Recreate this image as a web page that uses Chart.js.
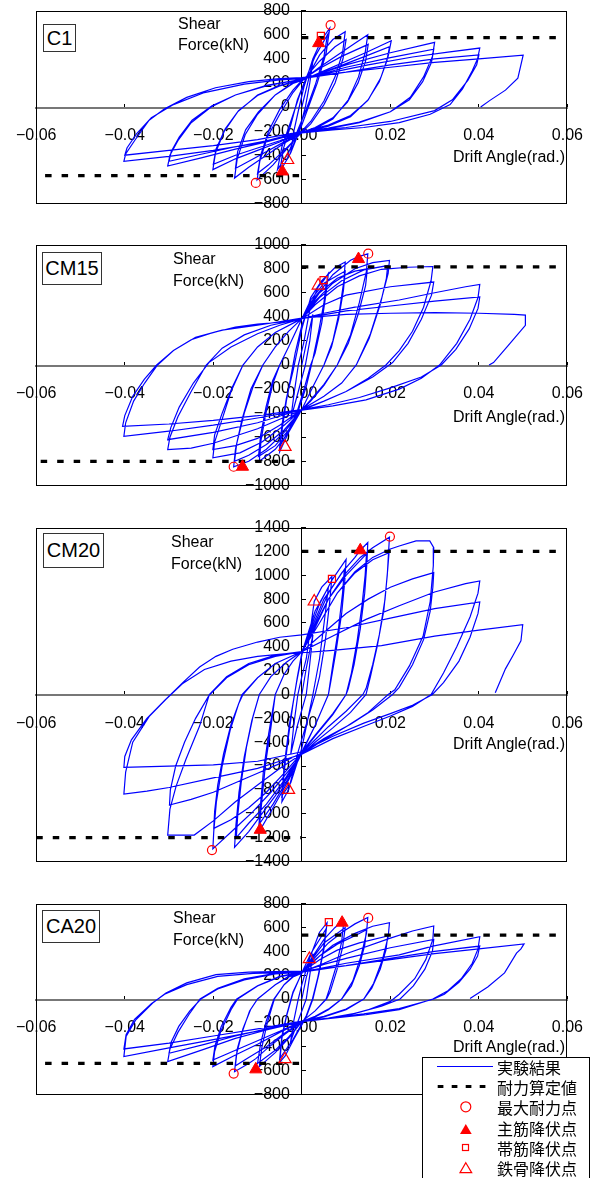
<!DOCTYPE html>
<html>
<head>
<meta charset="utf-8">
<script src="https://cdn.jsdelivr.net/npm/chart.js@4.4.1/dist/chart.umd.min.js"></script>
<style>
  body { margin: 0; background: #fff; width: 592px; height: 1178px; position: relative; overflow: hidden; font-family: 'Liberation Sans', Arial, sans-serif; }
  canvas { position: absolute; left: 0; }
  .tag { position: absolute; border: 1px solid #333; background: #fff; font-size: 20px; text-align: center; box-sizing: border-box; color: #000; }
  .lbl { position: absolute; font-size: 16px; line-height: 20px; height: 20px; white-space: nowrap; color: #000; }
  #legend { position: absolute; left: 422px; top: 1057px; width: 168px; height: 130px; border: 1px solid #000; background: #fff; box-sizing: border-box; }
  #legend svg { position: absolute; left: -1px; top: -1px; }
  .lg { position: absolute; left: 74px; font-family: 'Noto Sans CJK JP', sans-serif; font-size: 16px; line-height: 20px; height: 20px; white-space: nowrap; }
</style>
</head>
<body>
<canvas id="c1" width="592" height="224"></canvas>
<canvas id="cm15" width="592" height="281"></canvas>
<canvas id="cm20" width="592" height="374"></canvas>
<canvas id="ca20" width="592" height="231"></canvas>

<div class="tag" style="left:43px;top:24px;width:33px;height:28px;line-height:26px;">C1</div>
<div class="tag" style="left:42px;top:252px;width:60px;height:33px;line-height:31px;">CM15</div>
<div class="tag" style="left:43px;top:533px;width:61px;height:35px;line-height:33px;">CM20</div>
<div class="tag" style="left:42px;top:910px;width:58px;height:33px;line-height:31px;">CA20</div>

<div class="lbl" style="left:178px;top:14px;">Shear</div>
<div class="lbl" style="left:178px;top:35px;">Force(kN)</div>
<div class="lbl" style="left:173px;top:249px;">Shear</div>
<div class="lbl" style="left:173px;top:271px;">Force(kN)</div>
<div class="lbl" style="left:171px;top:532px;">Shear</div>
<div class="lbl" style="left:171px;top:554px;">Force(kN)</div>
<div class="lbl" style="left:173px;top:908px;">Shear</div>
<div class="lbl" style="left:173px;top:930px;">Force(kN)</div>

<div class="lbl" style="right:27px;top:147px;">Drift Angle(rad.)</div>
<div class="lbl" style="right:27px;top:407px;">Drift Angle(rad.)</div>
<div class="lbl" style="right:27px;top:734px;">Drift Angle(rad.)</div>
<div class="lbl" style="right:27px;top:1037px;">Drift Angle(rad.)</div>

<div id="legend">
  <svg width="170" height="125">
    <line x1="15" y1="9.5" x2="71" y2="9.5" stroke="#0000ff" stroke-width="1"/>
    <line x1="15.7" y1="29.5" x2="71" y2="29.5" stroke="#000" stroke-width="3" stroke-dasharray="5.7 8.3"/>
    <circle cx="43.8" cy="49.8" r="5" fill="none" stroke="#ff0000" stroke-width="1.2"/>
    <polygon points="43.8,67 49.7,77 38,77" fill="#ff0000"/>
    <rect x="40.5" y="87.5" width="6" height="6" fill="none" stroke="#ff0000" stroke-width="1.2"/>
    <polygon points="43.8,105.7 49.7,115.7 38,115.7" fill="none" stroke="#ff0000" stroke-width="1.2"/>
  </svg>
  <div class="lg" style="top:-1px;">実験結果</div>
  <div class="lg" style="top:19px;">耐力算定値</div>
  <div class="lg" style="top:39px;">最大耐力点</div>
  <div class="lg" style="top:60px;">主筋降伏点</div>
  <div class="lg" style="top:80px;">帯筋降伏点</div>
  <div class="lg" style="top:100px;">鉄骨降伏点</div>
</div>

<script>
// drift angle (rad.) vs shear force (kN)
const c1Curve = [
  [0,0],[0.0012,180],[0.0025,380],[0.0018,200],[0.0008,0],[-0.0005,-180],[-0.0025,-370],[-0.0018,-200],[-0.0006,0],[0.0005,170],
  [0.0025,400],[0.0045,560],[0.0063,655],[0.0055,450],[0.0035,200],[0.0015,0],[0,-150],[-0.0025,-380],[-0.005,-540],[-0.0042,-350],[-0.0025,-150],[-0.001,60],[0.0005,200],
  [0.003,420],[0.0058,600],[0.005,420],[0.003,180],[0.001,-20],[-0.001,-200],[-0.003,-380],[-0.0055,-520],[-0.0045,-330],[-0.0025,-120],[-0.0005,100],[0.001,230],
  [0.004,430],[0.007,560],[0.0098,625],[0.0092,450],[0.0075,250],[0.005,50],[0.002,-120],[0,-200],[-0.003,-330],[-0.0065,-480],[-0.0101,-605],[-0.0095,-450],[-0.0078,-250],[-0.005,-60],[-0.002,120],[0,210],
  [0.004,380],[0.0075,500],[0.01,560],[0.0093,400],[0.0075,200],[0.005,20],[0.002,-140],[0,-210],[-0.004,-360],[-0.0075,-480],[-0.01,-550],[-0.0093,-400],[-0.0075,-200],[-0.005,-20],[-0.002,140],[0,220],
  [0.004,330],[0.008,430],[0.012,530],[0.0149,600],[0.0143,450],[0.0128,250],[0.0105,60],[0.007,-100],[0.003,-180],[0,-215],[-0.004,-300],[-0.008,-400],[-0.012,-500],[-0.0152,-590],[-0.0146,-430],[-0.0128,-230],[-0.01,-60],[-0.006,100],[-0.002,200],[0,225],
  [0.004,320],[0.009,420],[0.015,520],[0.0144,380],[0.0127,200],[0.0103,40],[0.007,-90],[0.003,-170],[0,-210],[-0.005,-310],[-0.01,-410],[-0.015,-510],[-0.0145,-370],[-0.0127,-190],[-0.0098,-40],[-0.006,100],[-0.002,195],[0,220],
  [0.005,300],[0.01,380],[0.015,460],[0.0202,550],[0.0195,420],[0.0178,240],[0.015,60],[0.011,-80],[0.006,-160],[0,-210],[-0.005,-290],[-0.01,-360],[-0.015,-430],[-0.0201,-520],[-0.0195,-380],[-0.0175,-200],[-0.0145,-40],[-0.01,100],[-0.005,180],[0,225],
  [0.005,290],[0.01,360],[0.015,430],[0.0198,500],[0.0192,380],[0.0175,210],[0.0148,50],[0.011,-70],[0.006,-150],[0,-205],[-0.005,-280],[-0.01,-340],[-0.015,-400],[-0.02,-475],[-0.0194,-350],[-0.0173,-180],[-0.0143,-30],[-0.01,95],[-0.005,175],[0,225],
  [0.005,290],[0.01,350],[0.02,450],[0.03,536],[0.0295,420],[0.0275,250],[0.0245,80],[0.02,-40],[0.013,-130],[0.006,-180],[0,-210],[-0.008,-290],[-0.015,-350],[-0.0225,-420],[-0.0303,-490],[-0.0298,-400],[-0.028,-280],[-0.025,-130],[-0.0205,0],[-0.015,100],[-0.008,180],[0,230],
  [0.005,280],[0.01,330],[0.02,410],[0.0298,480],[0.0293,370],[0.0273,210],[0.0243,60],[0.02,-40],[0.013,-125],[0.006,-175],[0,-205],[-0.008,-280],[-0.015,-330],[-0.0225,-390],[-0.03,-450],[-0.0295,-370],[-0.0277,-250],[-0.0248,-110],[-0.0203,10],[-0.015,100],[-0.008,175],[0,230],
  [0.007,290],[0.015,350],[0.025,415],[0.033,455],[0.0402,489],[0.0397,400],[0.0385,300],[0.0363,150],[0.0335,20],[0.029,-60],[0.022,-130],[0.014,-170],[0.007,-190],[0,-215],[-0.01,-300],[-0.02,-360],[-0.03,-410],[-0.0402,-450],[-0.0398,-390],[-0.0378,-280],[-0.0345,-110],[-0.031,-15],[-0.026,80],[-0.0195,160],[-0.012,210],[-0.005,235],[0,245],
  [0.01,290],[0.02,350],[0.03,400],[0.04,433],[0.0395,350],[0.0375,220],[0.034,60],[0.03,-30],[0.02,-120],[0.01,-170],[0,-205],[-0.01,-270],[-0.02,-320],[-0.03,-360],[-0.04,-400],[-0.0395,-340],[-0.0373,-220],[-0.034,-90],[-0.029,20],[-0.022,120],[-0.013,190],[-0.005,225],[0,235],
  [0.01,290],[0.02,330],[0.03,370],[0.04,400],[0.05,430],[0.0488,240],[0.046,140],[0.0425,55],[0.0404,0]
];
const cm15Curve = [
  [0,0],[0.001,180],[0.0025,420],[0.0018,200],[0.0008,0],[-0.0008,-220],[-0.0025,-450],[-0.0018,-250],[-0.0008,0],[0.0004,180],
  [0.002,500],[0.0037,650],[0.0049,700],[0.006,760],[0.0055,600],[0.0045,350],[0.003,100],[0.002,0],[0.0005,-200],[-0.001,-380],[-0.003,-560],[-0.005,-720],[-0.0045,-550],[-0.0035,-300],[-0.0025,-100],[-0.0015,100],[0,330],
  [0.002,520],[0.0055,680],[0.005,520],[0.0038,280],[0.0025,50],[0.001,-180],[-0.001,-400],[-0.005,-680],[-0.0045,-500],[-0.0035,-280],[-0.002,-50],[0,300],
  [0.002,560],[0.0045,700],[0.0075,810],[0.0098,855],[0.0095,700],[0.0085,450],[0.007,200],[0.005,0],[0.0025,-180],[0,-370],[-0.003,-560],[-0.006,-700],[-0.0096,-799],[-0.0092,-620],[-0.008,-380],[-0.0065,-150],[-0.005,0],[-0.003,150],[-0.0012,290],[0,385],
  [0.002,540],[0.005,680],[0.0098,780],[0.0094,620],[0.0083,380],[0.0067,150],[0.005,0],[0.0025,-180],[0,-370],[-0.003,-540],[-0.006,-670],[-0.0098,-760],[-0.0093,-580],[-0.0081,-350],[-0.0066,-130],[-0.005,0],[-0.003,150],[-0.0012,290],[0,385],
  [0.003,560],[0.007,750],[0.011,870],[0.0128,900],[0.0149,923],[0.0146,780],[0.013,520],[0.011,250],[0.008,0],[0.005,-170],[0.002,-300],[0,-375],[-0.004,-560],[-0.008,-700],[-0.012,-800],[-0.0154,-845],[-0.015,-700],[-0.0135,-450],[-0.0115,-200],[-0.0088,0],[-0.006,150],[-0.003,280],[0,385],
  [0.004,600],[0.008,720],[0.012,780],[0.0148,800],[0.0144,660],[0.0128,430],[0.0105,180],[0.008,0],[0.005,-160],[0.002,-290],[0,-370],[-0.004,-540],[-0.008,-660],[-0.012,-750],[-0.0152,-799],[-0.0147,-650],[-0.013,-400],[-0.011,-180],[-0.0088,0],[-0.006,150],[-0.003,280],[0,385],
  [0.003,530],[0.007,680],[0.012,800],[0.016,850],[0.0198,868],[0.0195,760],[0.018,550],[0.0155,260],[0.0123,0],[0.009,-150],[0.005,-260],[0,-370],[-0.004,-500],[-0.009,-640],[-0.014,-730],[-0.0201,-771],[-0.0197,-640],[-0.018,-450],[-0.016,-220],[-0.0133,0],[-0.01,150],[-0.006,270],[0,385],
  [0.004,560],[0.009,700],[0.014,790],[0.0194,826],[0.0191,720],[0.0177,500],[0.0152,220],[0.0123,0],[0.009,-150],[0.005,-260],[0,-370],[-0.005,-500],[-0.01,-610],[-0.015,-670],[-0.0201,-702],[-0.0197,-580],[-0.018,-400],[-0.0158,-190],[-0.0133,0],[-0.01,150],[-0.006,270],[0,385],
  [0.003,500],[0.008,650],[0.013,740],[0.018,795],[0.024,812],[0.0296,818],[0.0292,700],[0.0275,480],[0.025,280],[0.022,120],[0.019,0],[0.015,-110],[0.01,-220],[0.005,-300],[0,-375],[-0.005,-450],[-0.01,-530],[-0.02,-650],[-0.025,-690],[-0.0303,-702],[-0.0298,-600],[-0.028,-430],[-0.025,-220],[-0.0216,0],[-0.018,140],[-0.013,250],[-0.007,330],[0,385],
  [0.005,500],[0.01,580],[0.02,650],[0.0298,689],[0.0293,580],[0.027,380],[0.024,180],[0.0205,20],[0.016,-100],[0.01,-220],[0.005,-300],[0,-370],[-0.01,-480],[-0.02,-560],[-0.0303,-620],[-0.0296,-520],[-0.0277,-350],[-0.0245,-150],[-0.021,20],[-0.016,150],[-0.01,260],[-0.005,330],[0,385],
  [0.005,430],[0.012,480],[0.022,540],[0.03,600],[0.037,650],[0.0402,669],[0.0398,560],[0.038,380],[0.035,180],[0.0311,0],[0.027,-110],[0.022,-200],[0.0145,-290],[0.007,-340],[0,-375],[-0.01,-440],[-0.02,-500],[-0.03,-550],[-0.0402,-592],[-0.0398,-480],[-0.038,-300],[-0.0355,-150],[-0.0326,0],[-0.029,120],[-0.025,210],[-0.02,270],[-0.015,315],[-0.01,340],[-0.005,355],[0,385],
  [0.01,450],[0.02,490],[0.03,530],[0.0402,565],[0.0398,470],[0.0378,300],[0.0348,130],[0.0315,0],[0.027,-100],[0.02,-190],[0.013,-270],[0.006,-330],[0,-370],[-0.01,-420],[-0.02,-460],[-0.03,-490],[-0.0405,-510],[-0.04,-420],[-0.0382,-260],[-0.0356,-120],[-0.0328,0],[-0.029,120],[-0.024,230],[-0.018,290],[-0.01,330],[0,390],
  [0.01,420],[0.02,430],[0.03,435],[0.04,430],[0.048,420],[0.0505,415],[0.0505,330],[0.0466,160],[0.0433,20],[0.0423,0]
];
const cm20Curve = [
  [0,0],[0.001,220],[0.0025,500],[0.0018,260],[0.001,0],[-0.001,-260],[-0.0025,-500],[-0.0018,-250],[-0.0009,0],[0,150],
  [0.001,300],[0.0028,780],[0.0045,900],[0.0068,990],[0.0063,780],[0.0053,450],[0.004,150],[0.003,0],[0.001,-250],[-0.001,-500],[-0.003,-800],[-0.0045,-900],[-0.004,-650],[-0.003,-350],[-0.002,-80],[-0.001,150],[0,350],
  [0.003,700],[0.006,900],[0.0052,650],[0.004,300],[0.0025,0],[0,-450],[-0.0025,-740],[-0.0045,-850],[-0.004,-600],[-0.0028,-250],[-0.0012,100],[0,330],
  [0.002,560],[0.004,760],[0.0068,960],[0.01,1134],[0.0097,950],[0.009,680],[0.0078,380],[0.0065,100],[0.006,0],[0.003,-260],[0,-490],[-0.003,-720],[-0.0065,-950],[-0.0094,-1135],[-0.0098,-1150],[-0.0094,-950],[-0.0087,-650],[-0.0075,-330],[-0.006,0],[-0.004,170],[-0.002,280],[0,360],
  [0.002,540],[0.005,800],[0.0096,1050],[0.0092,850],[0.0083,560],[0.007,250],[0.006,0],[0.003,-260],[0,-480],[-0.003,-700],[-0.0065,-920],[-0.0095,-1080],[-0.009,-880],[-0.0082,-580],[-0.007,-280],[-0.006,0],[-0.004,170],[-0.002,280],[0,360],
  [0.003,600],[0.006,850],[0.009,1020],[0.012,1150],[0.0132,1210],[0.0149,1274],[0.0147,1100],[0.0142,850],[0.0132,550],[0.0118,250],[0.0105,50],[0.01,0],[0.007,-170],[0.003,-350],[0,-490],[-0.003,-680],[-0.006,-850],[-0.009,-1000],[-0.012,-1150],[-0.0152,-1282],[-0.0149,-1100],[-0.0142,-820],[-0.013,-520],[-0.0113,-220],[-0.0096,0],[-0.007,150],[-0.0035,270],[0,360],
  [0.003,580],[0.006,800],[0.01,1000],[0.0146,1180],[0.0143,1000],[0.0136,750],[0.0125,450],[0.0112,180],[0.01,0],[0.007,-160],[0.003,-340],[0,-480],[-0.004,-720],[-0.008,-920],[-0.012,-1080],[-0.0148,-1200],[-0.0145,-1020],[-0.0137,-740],[-0.0125,-440],[-0.011,-180],[-0.0096,0],[-0.007,150],[-0.0035,270],[0,360],
  [0.003,560],[0.006,800],[0.01,1020],[0.0132,1150],[0.016,1230],[0.0198,1320],[0.0196,1200],[0.0193,1000],[0.0185,700],[0.017,400],[0.0155,150],[0.0145,0],[0.011,-150],[0.007,-280],[0.003,-400],[0,-500],[-0.003,-640],[-0.007,-820],[-0.011,-980],[-0.015,-1120],[-0.0201,-1295],[-0.0199,-1150],[-0.0193,-900],[-0.018,-600],[-0.0162,-300],[-0.0143,-80],[-0.0133,0],[-0.01,140],[-0.006,260],[0,360],
  [0.004,600],[0.008,850],[0.012,1020],[0.016,1130],[0.0197,1190],[0.0194,1050],[0.0188,800],[0.0175,500],[0.016,250],[0.0145,50],[0.0138,0],[0.01,-140],[0.006,-270],[0.003,-380],[0,-490],[-0.004,-660],[-0.008,-820],[-0.012,-950],[-0.016,-1050],[-0.0199,-1123],[-0.0197,-980],[-0.019,-760],[-0.0177,-500],[-0.016,-250],[-0.0135,0],[-0.01,140],[-0.006,260],[0,360],
  [0.004,600],[0.008,850],[0.012,1030],[0.016,1150],[0.02,1220],[0.022,1246],[0.0258,1288],[0.0289,1288],[0.0298,1232],[0.0297,1080],[0.029,780],[0.0274,490],[0.0243,240],[0.021,40],[0.0195,0],[0.015,-150],[0.01,-270],[0.005,-380],[0,-500],[-0.005,-620],[-0.01,-760],[-0.015,-900],[-0.02,-1060],[-0.0243,-1179],[-0.0303,-1179],[-0.0298,-962],[-0.0284,-768],[-0.0262,-545],[-0.0231,-265],[-0.0209,0],[-0.017,150],[-0.012,260],[-0.006,330],[0,360],
  [0.005,520],[0.01,680],[0.015,800],[0.02,900],[0.025,970],[0.0298,1022],[0.0296,900],[0.029,700],[0.0275,460],[0.025,250],[0.022,60],[0.0205,0],[0.016,-130],[0.011,-250],[0.005,-370],[0,-490],[-0.005,-580],[-0.01,-660],[-0.015,-740],[-0.02,-820],[-0.025,-880],[-0.0299,-927],[-0.0297,-800],[-0.0285,-600],[-0.0265,-400],[-0.024,-200],[-0.021,-10],[-0.017,140],[-0.012,250],[-0.006,320],[0,360],
  [0.007,490],[0.0145,630],[0.022,745],[0.03,860],[0.037,930],[0.0402,953],[0.0398,850],[0.038,650],[0.035,400],[0.032,180],[0.0292,0],[0.025,-100],[0.02,-180],[0.0145,-260],[0.007,-370],[0,-500],[-0.005,-560],[-0.01,-620],[-0.02,-700],[-0.03,-780],[-0.035,-810],[-0.0402,-835],[-0.0398,-650],[-0.0382,-400],[-0.0344,-180],[-0.0307,-40],[-0.0269,100],[-0.0231,230],[-0.0194,320],[-0.0156,380],[-0.01,440],[-0.005,480],[0,500],
  [0.01,560],[0.02,640],[0.03,720],[0.0402,776],[0.0398,680],[0.038,480],[0.0355,280],[0.032,100],[0.0295,0],[0.025,-90],[0.02,-160],[0.014,-240],[0.007,-350],[0,-480],[-0.01,-560],[-0.02,-590],[-0.03,-600],[-0.0402,-612],[-0.04,-520],[-0.0385,-380],[-0.035,-200],[-0.031,-50],[-0.027,90],[-0.022,210],[-0.016,280],[-0.01,320],[-0.004,340],[0,350],
  [0.007,370],[0.018,410],[0.03,490],[0.04,540],[0.0499,585],[0.0495,450],[0.0477,327],[0.046,215],[0.0437,15]
];
const ca20Curve = [
  [0,0],[0.001,180],[0.0025,380],[0.0018,200],[0.001,0],[-0.0008,-180],[-0.0025,-350],[-0.0018,-180],[-0.0008,0],[0,120],
  [0.0017,335],[0.004,560],[0.0057,640],[0.005,420],[0.0038,200],[0.0025,0],[0.001,-150],[-0.002,-350],[-0.0038,-480],[-0.005,-530],[-0.0045,-330],[-0.0035,-150],[-0.002,50],[0,220],
  [0.002,380],[0.0055,590],[0.0048,400],[0.0036,180],[0.0024,0],[0.001,-140],[-0.002,-340],[-0.005,-500],[-0.0045,-310],[-0.0034,-130],[-0.002,60],[0,215],
  [0.002,330],[0.005,500],[0.0075,600],[0.0095,660],[0.009,480],[0.0078,280],[0.0062,80],[0.0055,0],[0.003,-100],[0,-190],[-0.003,-330],[-0.006,-450],[-0.0096,-567],[-0.009,-400],[-0.0078,-200],[-0.0062,0],[-0.004,120],[-0.002,190],[0,215],
  [0.002,320],[0.005,470],[0.0098,600],[0.0092,430],[0.0079,240],[0.0064,60],[0.0056,0],[0.003,-100],[0,-190],[-0.003,-320],[-0.006,-430],[-0.01,-540],[-0.0093,-370],[-0.008,-180],[-0.0063,0],[-0.004,120],[-0.002,185],[0,215],
  [0.003,350],[0.006,470],[0.0091,560],[0.012,630],[0.0149,683],[0.0146,550],[0.0133,350],[0.0115,150],[0.009,0],[0.006,-90],[0.003,-150],[0,-190],[-0.004,-300],[-0.008,-420],[-0.0104,-500],[-0.012,-540],[-0.0152,-610],[-0.0148,-470],[-0.0135,-280],[-0.0118,-100],[-0.01,0],[-0.006,120],[-0.003,190],[0,220],
  [0.004,360],[0.008,460],[0.012,530],[0.0146,580],[0.0142,450],[0.013,280],[0.0112,110],[0.009,0],[0.006,-85],[0.003,-145],[0,-190],[-0.004,-290],[-0.008,-400],[-0.012,-490],[-0.015,-560],[-0.0146,-420],[-0.0133,-250],[-0.0116,-90],[-0.01,0],[-0.006,120],[-0.003,185],[0,220],
  [0.003,330],[0.007,450],[0.012,550],[0.016,610],[0.0198,640],[0.0195,520],[0.0182,330],[0.0162,130],[0.014,0],[0.01,-90],[0.005,-150],[0,-190],[-0.005,-280],[-0.01,-380],[-0.015,-470],[-0.0201,-567],[-0.0197,-440],[-0.0183,-270],[-0.016,-90],[-0.0145,0],[-0.01,110],[-0.005,190],[0,225],
  [0.004,330],[0.008,410],[0.013,470],[0.0194,528],[0.019,410],[0.0177,250],[0.0158,90],[0.014,0],[0.01,-85],[0.005,-145],[0,-185],[-0.005,-270],[-0.01,-350],[-0.015,-430],[-0.0201,-511],[-0.0196,-390],[-0.0182,-230],[-0.016,-70],[-0.0147,0],[-0.01,110],[-0.005,185],[0,225],
  [0.005,300],[0.01,380],[0.02,510],[0.025,570],[0.0298,612],[0.0296,500],[0.028,330],[0.0255,170],[0.022,40],[0.02,-20],[0.015,-90],[0.01,-140],[0.005,-170],[0,-190],[-0.008,-260],[-0.015,-330],[-0.022,-420],[-0.0303,-525],[-0.0298,-420],[-0.028,-280],[-0.0255,-130],[-0.023,0],[-0.019,90],[-0.013,170],[-0.006,215],[0,230],
  [0.005,290],[0.01,340],[0.02,430],[0.0298,500],[0.0295,400],[0.0278,250],[0.0252,110],[0.0222,0],[0.018,-60],[0.012,-120],[0.006,-160],[0,-185],[-0.008,-250],[-0.015,-310],[-0.022,-380],[-0.03,-455],[-0.0295,-360],[-0.0278,-230],[-0.0253,-100],[-0.0228,0],[-0.019,85],[-0.013,160],[-0.006,210],[0,225],
  [0.01,300],[0.022,370],[0.0296,444],[0.0402,522],[0.0398,420],[0.0385,300],[0.036,170],[0.033,70],[0.0296,0],[0.022,-90],[0.0145,-132],[0.007,-160],[0,-188],[-0.01,-270],[-0.02,-340],[-0.03,-410],[-0.0402,-483],[-0.0397,-315],[-0.0375,-174],[-0.0337,-34],[-0.0307,50],[-0.026,135],[-0.0194,205],[-0.012,225],[0,233],
  [0.01,280],[0.02,340],[0.03,400],[0.0402,444],[0.0397,360],[0.038,250],[0.0355,140],[0.0322,40],[0.0298,0],[0.022,-80],[0.014,-125],[0.007,-155],[0,-185],[-0.01,-250],[-0.02,-310],[-0.03,-370],[-0.0402,-419],[-0.0397,-300],[-0.0378,-170],[-0.034,-40],[-0.031,40],[-0.026,120],[-0.019,190],[-0.011,215],[0,225],
  [0.01,280],[0.02,330],[0.03,380],[0.04,420],[0.0502,462],[0.0495,420],[0.0485,385],[0.0458,219],[0.042,100],[0.038,5]
];

// calculated strength (耐力算定値), upper and lower dashed lines
const c1CalcUp = [[0, 575], [0.058, 575]];
const c1CalcLow = [[-0.058, -570], [0, -570]];
const cm15CalcUp = [[0, 815], [0.058, 815]];
const cm15CalcLow = [[-0.059, -800], [0, -800]];
const cm20CalcUp = [[0, 1200], [0.058, 1200]];
const cm20CalcLow = [[-0.06, -1200], [0, -1200]];
const ca20CalcUp = [[0, 535], [0.058, 535]];
const ca20CalcLow = [[-0.058, -540], [0, -540]];

// 最大耐力点, 主筋降伏点, 帯筋降伏点, 鉄骨降伏点
const c1Max = [[0.0065, 680], [-0.0104, -630]];
const c1Main = [[0.0038, 530], [-0.0044, -535]];
const c1Hoop = [[0.0043, 590]];
const c1Steel = [[-0.0032, -440]];
const cm15Max = [[0.015, 925], [-0.0154, -845]];
const cm15Main = [[0.0128, 880], [-0.0134, -845]];
const cm15Hoop = [[0.0049, 705]];
const cm15Steel = [[0.0037, 660], [-0.0038, -680]];
const cm20Max = [[0.0199, 1325], [-0.0203, -1305]];
const cm20Main = [[0.0132, 1210], [-0.0094, -1135]];
const cm20Hoop = [[0.0068, 970]];
const cm20Steel = [[0.0028, 780], [-0.003, -800]];
const ca20Max = [[0.015, 680], [-0.0154, -625]];
const ca20Main = [[0.0091, 640], [-0.0104, -590]];
const ca20Hoop = [[0.0061, 645]];
const ca20Steel = [[0.0017, 335], [-0.0038, -505]];

const driftMin = -0.06, driftMax = 0.06, driftStep = 0.02;
const shearStep = 200;

const toXY = arr => arr.map(p => ({ x: p[0], y: p[1] }));

const framePlugin = {
  id: 'frame',
  beforeDatasetsDraw(chart) {
    const a = chart.chartArea;
    const ctx = chart.ctx;
    ctx.save();
    ctx.strokeStyle = '#000';
    ctx.lineWidth = 1;
    ctx.strokeRect(Math.round(a.left) + 0.5, Math.round(a.top) + 0.5, Math.round(a.right - a.left) - 1, Math.round(a.bottom - a.top) - 1);
    ctx.restore();
  }
};

function fmtDrift(v) {
  if (Math.abs(v) < 1e-9) return '0.00';
  return (v < 0 ? '\u2212' : '') + Math.abs(v).toFixed(2);
}
function fmtShear(v) {
  if (Math.abs(v) < 1e-9) return '0';
  return (v < 0 ? '\u2212' : '') + Math.abs(Math.round(v));
}

function panelConfig(shearMax, curve, calcUp, calcLow, maxPts, mainPts, hoopPts, steelPts) {
  const tickFont = { family: "'Liberation Sans', Arial, sans-serif", size: 16 };
  return {
    type: 'scatter',
    data: {
      datasets: [
        { data: toXY(maxPts), pointStyle: 'circle', pointRadius: 4.5, borderColor: '#ff0000', backgroundColor: 'rgba(0,0,0,0)', borderWidth: 1.2 },
        { data: toXY(mainPts), pointStyle: 'triangle', pointRadius: 7, borderColor: '#ff0000', backgroundColor: '#ff0000', borderWidth: 1 },
        { data: toXY(hoopPts), pointStyle: 'rect', pointRadius: 5, borderColor: '#ff0000', backgroundColor: 'rgba(0,0,0,0)', borderWidth: 1.2 },
        { data: toXY(steelPts), pointStyle: 'triangle', pointRadius: 7, borderColor: '#ff0000', backgroundColor: 'rgba(0,0,0,0)', borderWidth: 1.2 },
        { data: toXY(calcUp), showLine: true, pointRadius: 0, borderColor: '#000', borderWidth: 3.3, borderDash: [6.5, 10] },
        { data: toXY(calcLow), showLine: true, pointRadius: 0, borderColor: '#000', borderWidth: 3.3, borderDash: [6.5, 10] },
        { data: toXY(curve), showLine: true, pointRadius: 0, borderColor: '#0000ff', borderWidth: 1.2, tension: 0 }
      ]
    },
    options: {
      responsive: false,
      animation: false,
      events: [],
      layout: { padding: 0 },
      plugins: { legend: { display: false }, tooltip: { enabled: false } },
      scales: {
        x: {
          type: 'linear', position: 'center', min: driftMin, max: driftMax,
          ticks: { stepSize: driftStep, callback: fmtDrift, font: tickFont, color: '#000', padding: 24, maxRotation: 0, autoSkip: false },
          grid: { drawOnChartArea: false, drawTicks: true, tickLength: -5, color: '#000' },
          border: { display: true, color: '#777', width: 2 }
        },
        y: {
          type: 'linear', position: 'center', min: -shearMax, max: shearMax,
          ticks: { stepSize: shearStep, callback: fmtShear, font: tickFont, color: '#000', padding: 17, autoSkip: false },
          grid: { drawOnChartArea: false, drawTicks: true, tickLength: -5, color: '#000' },
          border: { display: true, color: '#000', width: 1 }
        }
      }
    },
    plugins: [framePlugin]
  };
}

// place each canvas so that its plot area lands on the panel box of the figure
function drawPanel(id, box, shearMax, curve, calcUp, calcLow, maxPts, mainPts, hoopPts, steelPts) {
  const canvas = document.getElementById(id);
  const make = () => new Chart(canvas, panelConfig(shearMax, curve, calcUp, calcLow, maxPts, mainPts, hoopPts, steelPts));
  let chart = make();
  for (let i = 0; i < 3; i++) {
    const a = chart.chartArea;
    const mL = a.left, mT = a.top, mR = chart.width - a.right, mB = chart.height - a.bottom;
    const w = Math.round(box.right - box.left + mL + mR);
    const h = Math.round(box.bottom - box.top + mT + mB);
    const okSize = Math.abs((a.right - a.left) - (box.right - box.left)) < 0.6 && Math.abs((a.bottom - a.top) - (box.bottom - box.top)) < 0.6;
    canvas.style.left = Math.round(box.left - mL) + 'px';
    canvas.style.top = Math.round(box.top - mT) + 'px';
    if (okSize) break;
    chart.destroy();
    canvas.width = w;
    canvas.height = h;
    chart = make();
  }
}

drawPanel('c1', { left: 36, right: 567, top: 11, bottom: 204 }, 800, c1Curve, c1CalcUp, c1CalcLow, c1Max, c1Main, c1Hoop, c1Steel);
drawPanel('cm15', { left: 36, right: 567, top: 245, bottom: 486 }, 1000, cm15Curve, cm15CalcUp, cm15CalcLow, cm15Max, cm15Main, cm15Hoop, cm15Steel);
drawPanel('cm20', { left: 36, right: 567, top: 528, bottom: 862 }, 1400, cm20Curve, cm20CalcUp, cm20CalcLow, cm20Max, cm20Main, cm20Hoop, cm20Steel);
drawPanel('ca20', { left: 36, right: 567, top: 904, bottom: 1095 }, 800, ca20Curve, ca20CalcUp, ca20CalcLow, ca20Max, ca20Main, ca20Hoop, ca20Steel);
</script>
</body>
</html>
